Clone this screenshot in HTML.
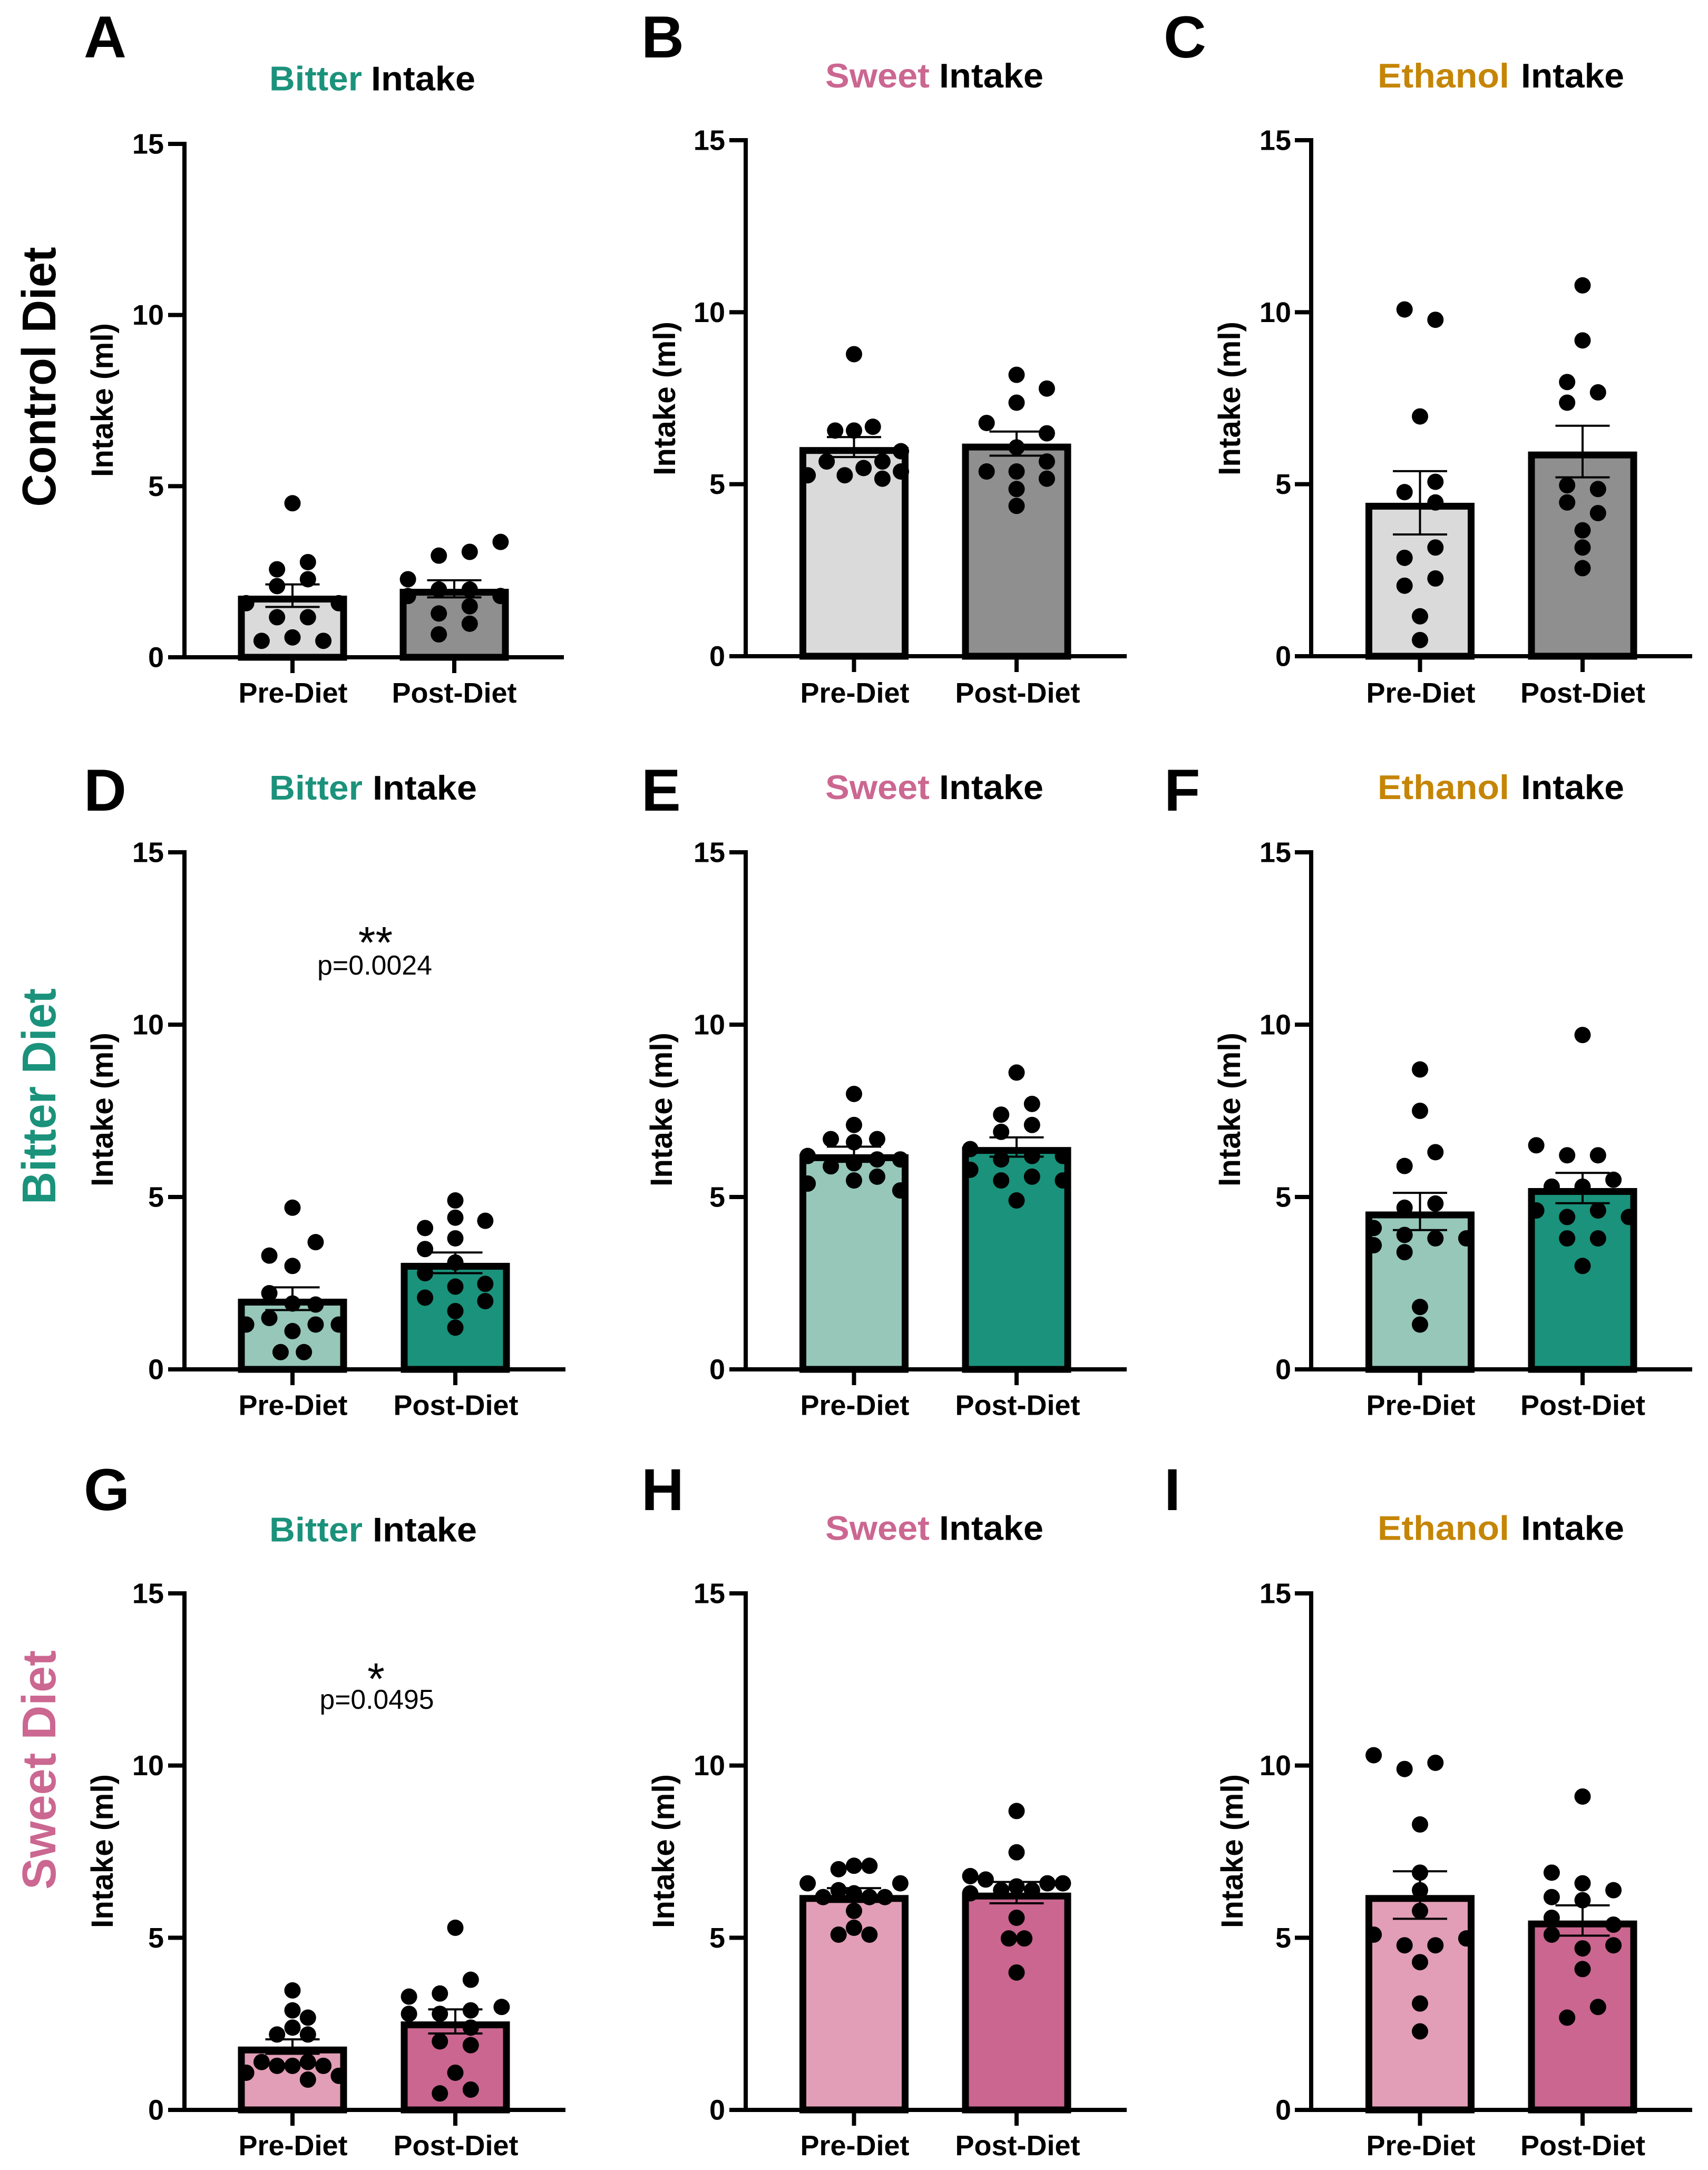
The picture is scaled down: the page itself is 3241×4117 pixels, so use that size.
<!DOCTYPE html>
<html lang="en">
<head>
<meta charset="utf-8">
<title>Diet and Intake Bar Charts</title>
<style>
html,body{margin:0;padding:0;background:#fff;}
svg{display:block;}
text{font-family:"Liberation Sans",Arial,sans-serif;}
.letter{font-size:112px;font-weight:700;fill:#000;}
.title{font-size:65px;font-weight:700;}
.ylab{font-size:58px;font-weight:700;fill:#000;}
.rowlab{font-size:90px;font-weight:700;}
.pval{font-size:52px;fill:#000;}
.star{font-size:84px;fill:#000;}
.tick{font-size:54px;font-weight:700;fill:#000;}
</style>
</head>
<body>
<svg id="figure" xmlns="http://www.w3.org/2000/svg" width="3241" height="4117" viewBox="0 0 3241 4117">
<rect width="3241" height="4117" fill="#fff"/>

<text class="rowlab" fill="#000" textLength="493" lengthAdjust="spacingAndGlyphs" text-anchor="middle" transform="translate(105,715) rotate(-90)">Control Diet</text>
<text class="rowlab" fill="#1b927b" textLength="410" lengthAdjust="spacingAndGlyphs" text-anchor="middle" transform="translate(105,2080) rotate(-90)">Bitter Diet</text>
<text class="rowlab" fill="#cb6791" textLength="454" lengthAdjust="spacingAndGlyphs" text-anchor="middle" transform="translate(105,3358) rotate(-90)">Sweet Diet</text>

<g id="panel-a">
<text class="letter" x="159" y="109">A</text>
<text class="title" x="511" y="171.5" fill="#1b927b" textLength="176" lengthAdjust="spacingAndGlyphs">Bitter</text>
<text class="title" x="704" y="171.5" fill="#000" textLength="198" lengthAdjust="spacingAndGlyphs">Intake</text>
<text class="ylab" text-anchor="middle" textLength="292" lengthAdjust="spacingAndGlyphs" transform="translate(214,759) rotate(-90)">Intake (ml)</text>
</g>

<g id="panel-b">
<text class="letter" x="1217" y="109">B</text>
<text class="title" x="1566" y="166" fill="#cb6791" textLength="198" lengthAdjust="spacingAndGlyphs">Sweet</text>
<text class="title" x="1782" y="166" fill="#000" textLength="198" lengthAdjust="spacingAndGlyphs">Intake</text>
<text class="ylab" text-anchor="middle" textLength="292" lengthAdjust="spacingAndGlyphs" transform="translate(1281,756) rotate(-90)">Intake (ml)</text>
</g>

<g id="panel-c">
<text class="letter" x="2208" y="109">C</text>
<text class="title" x="2614" y="166" fill="#c58505" textLength="250" lengthAdjust="spacingAndGlyphs">Ethanol</text>
<text class="title" x="2886" y="166" fill="#000" textLength="196" lengthAdjust="spacingAndGlyphs">Intake</text>
<text class="ylab" text-anchor="middle" textLength="292" lengthAdjust="spacingAndGlyphs" transform="translate(2353,756) rotate(-90)">Intake (ml)</text>
</g>

<g id="panel-d">
<text class="letter" x="159" y="1538">D</text>
<text class="title" x="511" y="1517" fill="#1b927b" textLength="177" lengthAdjust="spacingAndGlyphs">Bitter</text>
<text class="title" x="707" y="1517" fill="#000" textLength="198" lengthAdjust="spacingAndGlyphs">Intake</text>
<text class="ylab" text-anchor="middle" textLength="292" lengthAdjust="spacingAndGlyphs" transform="translate(214,2105) rotate(-90)">Intake (ml)</text>
<text class="star" x="712.5" y="1817" text-anchor="middle">**</text>
<text class="pval" x="602" y="1849" textLength="218" lengthAdjust="spacingAndGlyphs">p=0.0024</text>
</g>

<g id="panel-e">
<text class="letter" x="1217" y="1538">E</text>
<text class="title" x="1566" y="1516" fill="#cb6791" textLength="198" lengthAdjust="spacingAndGlyphs">Sweet</text>
<text class="title" x="1782" y="1516" fill="#000" textLength="198" lengthAdjust="spacingAndGlyphs">Intake</text>
<text class="ylab" text-anchor="middle" textLength="292" lengthAdjust="spacingAndGlyphs" transform="translate(1275,2105) rotate(-90)">Intake (ml)</text>
</g>

<g id="panel-f">
<text class="letter" x="2209" y="1538">F</text>
<text class="title" x="2614" y="1516" fill="#c58505" textLength="250" lengthAdjust="spacingAndGlyphs">Ethanol</text>
<text class="title" x="2886" y="1516" fill="#000" textLength="196" lengthAdjust="spacingAndGlyphs">Intake</text>
<text class="ylab" text-anchor="middle" textLength="292" lengthAdjust="spacingAndGlyphs" transform="translate(2353,2105) rotate(-90)">Intake (ml)</text>
</g>

<g id="panel-g">
<text class="letter" x="159" y="2865">G</text>
<text class="title" x="511" y="2924.5" fill="#1b927b" textLength="177" lengthAdjust="spacingAndGlyphs">Bitter</text>
<text class="title" x="707" y="2924.5" fill="#000" textLength="198" lengthAdjust="spacingAndGlyphs">Intake</text>
<text class="ylab" text-anchor="middle" textLength="292" lengthAdjust="spacingAndGlyphs" transform="translate(214,3512) rotate(-90)">Intake (ml)</text>
<text class="star" x="713.5" y="3214" text-anchor="middle">*</text>
<text class="pval" x="606.5" y="3242" textLength="217" lengthAdjust="spacingAndGlyphs">p=0.0495</text>
</g>

<g id="panel-h">
<text class="letter" x="1217" y="2865">H</text>
<text class="title" x="1566" y="2921.5" fill="#cb6791" textLength="198" lengthAdjust="spacingAndGlyphs">Sweet</text>
<text class="title" x="1782" y="2921.5" fill="#000" textLength="198" lengthAdjust="spacingAndGlyphs">Intake</text>
<text class="ylab" text-anchor="middle" textLength="292" lengthAdjust="spacingAndGlyphs" transform="translate(1279,3512) rotate(-90)">Intake (ml)</text>
</g>

<g id="panel-i">
<text class="letter" x="2209" y="2865">I</text>
<text class="title" x="2614" y="2921.5" fill="#c58505" textLength="250" lengthAdjust="spacingAndGlyphs">Ethanol</text>
<text class="title" x="2886" y="2921.5" fill="#000" textLength="196" lengthAdjust="spacingAndGlyphs">Intake</text>
<text class="ylab" text-anchor="middle" textLength="292" lengthAdjust="spacingAndGlyphs" transform="translate(2358,3512) rotate(-90)">Intake (ml)</text>
</g>
</svg>

<script>
// ---- Shared axis data ----
const categories = ['Pre-Diet', 'Post-Diet'];
const yTicks = [0, 5, 10, 15];

// ---- Panel A ----
const meanA = [1.8, 2.0];
const semA = [0.33, 0.25];
const preA = [4.5, 2.57, 2.78, 2.28, 2.08, 1.58, 1.58, 1.17, 1.17, 0.48, 0.58, 0.48];
const preSwarmA = [0, -1, 1, 1, -1, -3, 3, -1, 1, -2, 0, 2];
const postA = [2.97, 3.08, 3.37, 2.28, 1.98, 1.98, 1.79, 1.79, 1.49, 1.28, 0.98, 0.67];
const postSwarmA = [-1, 1, 3, -3, -1, 1, -3, 3, 1, -1, 1, -1];

// ---- Panel B ----
const meanB = [6.08, 6.18];
const semB = [0.29, 0.35];
const preB = [8.78, 6.56, 6.56, 6.67, 5.96, 5.66, 5.66, 5.47, 5.26, 5.26, 5.16, 5.37];
const preSwarmB = [0, -1.22, 0, 1.22, 3.04, -1.77, 1.84, 0.62, -0.6, -3, 1.84, 3.04];
const postB = [8.18, 7.78, 7.37, 6.78, 6.48, 6.07, 5.66, 5.37, 5.37, 5.16, 4.86, 4.37];
const postSwarmB = [0, 1.96, 0, -1.94, 1.96, 0, 1.96, -1.94, 0, 1.96, 0, 0];

// ---- Panel C ----
const meanC = [4.46, 5.95];
const semC = [0.92, 0.75];
const preC = [10.08, 9.78, 6.97, 5.07, 4.77, 4.47, 3.16, 2.86, 2.26, 2.05, 1.16, 0.47];
const preSwarmC = [-1, 1, 0, 1, -1, 1, 1, -1, 1, -1, 0, 0];
const postC = [10.78, 9.18, 7.97, 7.67, 7.37, 4.97, 4.86, 4.47, 4.16, 3.66, 3.16, 2.56];
const postSwarmC = [0, 0, -1, 1, -1, -1, 1, -1, 1, 0, 0, 0];

// ---- Panel D ----
const meanD = [2.05, 3.09];
const semD = [0.33, 0.3];
const preD = [4.69, 3.69, 3.3, 3.0, 2.21, 1.91, 1.88, 1.49, 1.3, 1.3, 1.3, 1.11, 0.5, 0.5];
const preSwarmD = [0, 1.5, -1.5, 0, -1.5, 0, 1.5, -1.5, -3, 1.5, 3, 0, -0.77, 0.74];
const postD = [4.9, 4.4, 4.31, 4.1, 3.8, 3.49, 3.1, 2.79, 2.48, 2.4, 2.08, 1.98, 1.69, 1.21];
const postSwarmD = [0, 0, 1.94, -1.96, 0, -1.96, 0, -1.96, 1.94, 0, -1.96, 1.94, 0, 0];

// ---- Panel E ----
const meanE = [6.24, 6.45];
const semE = [0.22, 0.28];
const preE = [7.99, 7.09, 6.68, 6.68, 6.59, 6.19, 6.09, 6.09, 5.98, 5.89, 5.39, 5.48, 5.59, 5.19];
const preSwarmE = [0, 0, -1.5, 1.5, 0, -3, 3, 1.5, 0, -1.5, -3, 0, 1.5, 3];
const postE = [8.61, 7.7, 7.39, 7.09, 6.89, 6.39, 6.19, 6.09, 6.19, 5.79, 5.48, 5.59, 5.48, 4.9];
const postSwarmE = [0, 1, -1, 1, -1, -3, 1, -1, 3, -3, -1, 1, 3, 0];

// ---- Panel F ----
const meanF = [4.58, 5.26];
const semF = [0.54, 0.44];
const preF = [8.7, 7.5, 6.3, 5.9, 4.81, 4.69, 4.1, 3.9, 3.8, 3.8, 3.6, 3.4, 1.81, 1.3];
const preSwarmF = [0, 0, 1, -1, 1, -1, -3, -1, 1, 3, -3, -1, 0, 0];
const postF = [9.7, 6.5, 6.21, 6.21, 5.5, 5.3, 5.3, 4.61, 4.61, 4.42, 4.42, 3.8, 3.8, 3.0];
const postSwarmF = [0, -3, -1, 1, 2, -2, 0, -3, 1, -1, 3, -1, 1, 0];

// ---- Panel G ----
const meanG = [1.84, 2.57];
const semG = [0.21, 0.35];
const preG = [3.47, 2.89, 2.68, 2.39, 2.19, 2.19, 1.39, 1.39, 1.28, 1.28, 1.28, 1.08, 0.99, 0.88];
const preSwarmG = [0, 0, 1, 0, -1, 1, -2, 1, 2, -1, 0, -3, 3, 1];
const postG = [5.29, 3.78, 3.29, 3.38, 2.99, 2.79, 2.79, 2.89, 2.39, 1.99, 1.88, 1.08, 0.59, 0.48];
const postSwarmG = [0, 1, -3, -1, 3, -3, -1, 1, 1, -1, 1, 0, 1, -1];

// ---- Panel H ----
const meanH = [6.24, 6.31];
const semH = [0.2, 0.31];
const preH = [7.09, 7.09, 6.99, 6.58, 6.58, 6.38, 6.29, 6.18, 6.18, 6.18, 5.78, 5.29, 5.09, 5.09];
const preSwarmH = [0, 1, -1, -3, 3, -1, 0, -2, 1, 2, 0, 0, -1, 1];
const postH = [8.68, 7.48, 6.79, 6.69, 6.58, 6.58, 6.49, 6.38, 6.38, 6.29, 5.58, 4.98, 4.98, 3.99];
const postSwarmH = [0, 0, -3, -2, 2, 3, 0, -1, 1, -3, 0, -0.5, 0.5, 0];

// ---- Panel I ----
const meanI = [6.24, 5.5];
const semI = [0.69, 0.44];
const preI = [10.3, 10.08, 9.9, 8.29, 6.89, 6.38, 5.78, 5.09, 4.98, 4.78, 4.78, 4.29, 3.09, 2.28];
const preSwarmI = [-3, 1, -1, 0, 0, 0, 0, -3, 3, -1, 1, 0, 0, 0];
const postI = [9.1, 6.89, 6.58, 6.38, 6.18, 6.09, 5.58, 5.38, 5.09, 4.69, 4.78, 4.09, 2.99, 2.68];
const postSwarmI = [0, -2, 0, 2, -2, 0, -2, 2, -2, 0, 2, 0, 1, -1];

// ---- Drawing ----
const NS = 'http://www.w3.org/2000/svg';
const SWARM_STEP = 29.3;
const DOT_R = 15.5;
const BAR_W = 207;
const BAR_STROKE = 13;
const AXIS_W = 8;
const ERR_W = 4;
const CAP_HALF = 51.5;
const GREYS = ['#dadada', '#8f8f8f'];
const GREENS = ['#96c7b9', '#1b927b'];
const PINKS = ['#e29eb7', '#ca668f'];

function el(tag, attrs, parent) {
  const node = document.createElementNS(NS, tag);
  for (const key in attrs) node.setAttribute(key, attrs[key]);
  parent.appendChild(node);
  return node;
}

function drawPanel(id, frame, fills, means, sems, seriesValues, seriesSwarm) {
  const root = document.getElementById(id);
  const yScale = v => frame.y0 - v * (frame.y0 - frame.y15) / 15;
  const xScale = i => frame.centers[i];

  categories.forEach((cat, i) => {
    const key = cat.toLowerCase();
    const cx = xScale(i);
    const top = yScale(means[i]);

    const bar = el('rect', {
      x: cx - BAR_W / 2 + BAR_STROKE / 2,
      y: top + BAR_STROKE / 2,
      width: BAR_W - BAR_STROKE,
      height: frame.y0 - top - BAR_STROKE / 2,
      fill: fills[i],
      stroke: '#000',
      'stroke-width': BAR_STROKE
    }, root);
    
    

    seriesValues[i].forEach((v, k) => {
      const dot = el('circle', {
        cx: cx + seriesSwarm[i][k] * SWARM_STEP,
        cy: yScale(v),
        r: DOT_R,
        fill: '#000'
      }, root);
      
      
    });

    const hi = yScale(means[i] + sems[i]);
    const lo = yScale(means[i] - sems[i]);
    const err = el('path', {
      d: 'M' + (cx - CAP_HALF) + ' ' + hi + 'H' + (cx + CAP_HALF) +
         'M' + cx + ' ' + hi + 'V' + lo +
         'M' + (cx - CAP_HALF) + ' ' + lo + 'H' + (cx + CAP_HALF),
      fill: 'none',
      stroke: '#000',
      'stroke-width': ERR_W
    }, root);
    
    

    const tick = el('line', {
      x1: cx, x2: cx,
      y1: frame.y0, y2: frame.y0 + 30,
      stroke: '#000',
      'stroke-width': AXIS_W
    }, root);
    
    

    const label = el('text', {
      class: 'tick',
      x: frame.labelCenters[i],
      y: frame.labelY,
      'text-anchor': 'middle'
    }, root);
    label.textContent = cat;
    
    
  });

  const yAxis = el('line', {
    x1: frame.axisX, x2: frame.axisX,
    y1: frame.y15 - AXIS_W / 2, y2: frame.y0 + AXIS_W / 2,
    stroke: '#000',
    'stroke-width': AXIS_W
  }, root);
  
  

  const xAxis = el('line', {
    x1: frame.axisX - 31, x2: frame.right,
    y1: frame.y0, y2: frame.y0,
    stroke: '#000',
    'stroke-width': AXIS_W
  }, root);
  
  

  yTicks.forEach(t => {
    const yPos = yScale(t);
    const tick = el('line', {
      x1: frame.axisX - 31, x2: frame.axisX,
      y1: yPos, y2: yPos,
      stroke: '#000',
      'stroke-width': AXIS_W
    }, root);
    
    

    const label = el('text', {
      class: 'tick',
      x: frame.tickLabelX,
      y: yPos + 18.5,
      'text-anchor': 'end'
    }, root);
    label.textContent = String(t);
    
    
  });
}

drawPanel('panel-a', {axisX: 350, y0: 1247, y15: 273, right: 1070, centers: [555, 862], labelCenters: [556, 862], labelY: 1333, tickLabelX: 311}, GREYS, meanA, semA, [preA, postA], [preSwarmA, postSwarmA]);
drawPanel('panel-b', {axisX: 1415, y0: 1245, y15: 266, right: 2138, centers: [1620.5, 1929], labelCenters: [1622, 1931], labelY: 1333, tickLabelX: 1376}, GREYS, meanB, semB, [preB, postB], [preSwarmB, postSwarmB]);
drawPanel('panel-c', {axisX: 2488, y0: 1245, y15: 266, right: 3211, centers: [2694.5, 3003], labelCenters: [2696, 3003.5], labelY: 1333, tickLabelX: 2450}, GREYS, meanC, semC, [preC, postC], [preSwarmC, postSwarmC]);

drawPanel('panel-d', {axisX: 350, y0: 2598, y15: 1617, right: 1073, centers: [555, 864], labelCenters: [556, 865], labelY: 2684.5, tickLabelX: 311}, GREENS, meanD, semD, [preD, postD], [preSwarmD, postSwarmD]);
drawPanel('panel-e', {axisX: 1415, y0: 2598, y15: 1617, right: 2138, centers: [1620.5, 1929], labelCenters: [1622, 1931], labelY: 2684.5, tickLabelX: 1376}, GREENS, meanE, semE, [preE, postE], [preSwarmE, postSwarmE]);
drawPanel('panel-f', {axisX: 2488, y0: 2598, y15: 1617, right: 3211, centers: [2694.5, 3003], labelCenters: [2696, 3003.5], labelY: 2684.5, tickLabelX: 2450}, GREENS, meanF, semF, [preF, postF], [preSwarmF, postSwarmF]);

drawPanel('panel-g', {axisX: 350, y0: 4003, y15: 3023, right: 1073, centers: [555, 864], labelCenters: [556, 865], labelY: 4089, tickLabelX: 311}, PINKS, meanG, semG, [preG, postG], [preSwarmG, postSwarmG]);
drawPanel('panel-h', {axisX: 1415, y0: 4003, y15: 3023, right: 2138, centers: [1620.5, 1929], labelCenters: [1622, 1931], labelY: 4089, tickLabelX: 1376}, PINKS, meanH, semH, [preH, postH], [preSwarmH, postSwarmH]);
drawPanel('panel-i', {axisX: 2488, y0: 4003, y15: 3023, right: 3211, centers: [2694.5, 3003], labelCenters: [2696, 3003.5], labelY: 4089, tickLabelX: 2450}, PINKS, meanI, semI, [preI, postI], [preSwarmI, postSwarmI]);
</script>
</body>
</html>
